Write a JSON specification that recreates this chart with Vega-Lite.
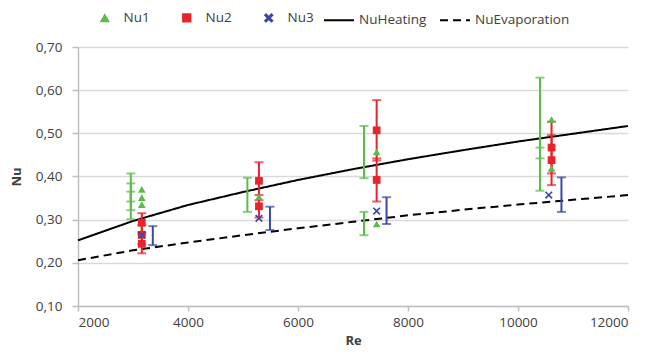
{
  "$schema": "https://vega.github.io/schema/vega-lite/v6.json",
  "width": 550,
  "height": 259,
  "autosize": {"type": "none"},
  "padding": {"left": 78, "top": 47, "right": 23, "bottom": 50},
  "background": "white",
  "config": {
    "view": {"stroke": null},
    "font": "Open Sans",
    "axis": {
      "gridColor": "#d9d9d9",
      "gridWidth": 1.5,
      "domainColor": "#bfbfbf",
      "domainWidth": 1.5,
      "tickColor": "#bfbfbf",
      "tickWidth": 1.5,
      "labelColor": "#404040",
      "labelFontSize": 13.5,
      "labelFont": "Open Sans",
      "titleColor": "#404040",
      "titleFontSize": 13,
      "titleFontWeight": "bold",
      "titleFont": "Open Sans"
    },
    "legend": {"padding": 0, "labelFont": "Open Sans", "labelFontSize": 13.5, "labelColor": "#404040", "symbolOpacity": 1}
  },
  "datasets": {
    "pts": [
      {"series": "Nu1", "Re": 3160, "Nu": 0.370},
      {"series": "Nu1", "Re": 3160, "Nu": 0.351},
      {"series": "Nu1", "Re": 3160, "Nu": 0.335},
      {"series": "Nu1", "Re": 5290, "Nu": 0.353},
      {"series": "Nu1", "Re": 7430, "Nu": 0.457},
      {"series": "Nu1", "Re": 7430, "Nu": 0.290},
      {"series": "Nu1", "Re": 10610, "Nu": 0.532},
      {"series": "Nu1", "Re": 10610, "Nu": 0.419},
      {"series": "Nu2", "Re": 3160, "Nu": 0.293},
      {"series": "Nu2", "Re": 3160, "Nu": 0.265},
      {"series": "Nu2", "Re": 3160, "Nu": 0.244},
      {"series": "Nu2", "Re": 5290, "Nu": 0.390},
      {"series": "Nu2", "Re": 5290, "Nu": 0.331},
      {"series": "Nu2", "Re": 7430, "Nu": 0.507},
      {"series": "Nu2", "Re": 7430, "Nu": 0.392},
      {"series": "Nu2", "Re": 10610, "Nu": 0.467},
      {"series": "Nu2", "Re": 10610, "Nu": 0.438},
      {"series": "Nu3", "Re": 3160, "Nu": 0.264},
      {"series": "Nu3", "Re": 5290, "Nu": 0.303},
      {"series": "Nu3", "Re": 7430, "Nu": 0.320},
      {"series": "Nu3", "Re": 10560, "Nu": 0.357}
    ],
    "errs": [
      {"series": "Nu1", "Re": 2960, "lo": 0.342, "hi": 0.407},
      {"series": "Nu1", "Re": 2960, "lo": 0.322, "hi": 0.384},
      {"series": "Nu1", "Re": 2960, "lo": 0.301, "hi": 0.365},
      {"series": "Nu1", "Re": 5080, "lo": 0.318, "hi": 0.397},
      {"series": "Nu1", "Re": 7200, "lo": 0.396, "hi": 0.517},
      {"series": "Nu1", "Re": 7200, "lo": 0.264, "hi": 0.318},
      {"series": "Nu1", "Re": 10400, "lo": 0.442, "hi": 0.629},
      {"series": "Nu1", "Re": 10400, "lo": 0.367, "hi": 0.467},
      {"series": "Nu2", "Re": 3160, "lo": 0.271, "hi": 0.315},
      {"series": "Nu2", "Re": 3160, "lo": 0.243, "hi": 0.287},
      {"series": "Nu2", "Re": 3160, "lo": 0.222, "hi": 0.266},
      {"series": "Nu2", "Re": 5290, "lo": 0.345, "hi": 0.433},
      {"series": "Nu2", "Re": 5290, "lo": 0.305, "hi": 0.357},
      {"series": "Nu2", "Re": 7430, "lo": 0.437, "hi": 0.577},
      {"series": "Nu2", "Re": 7430, "lo": 0.342, "hi": 0.442},
      {"series": "Nu2", "Re": 10610, "lo": 0.407, "hi": 0.527},
      {"series": "Nu2", "Re": 10610, "lo": 0.380, "hi": 0.496},
      {"series": "Nu3", "Re": 3360, "lo": 0.241, "hi": 0.285},
      {"series": "Nu3", "Re": 5490, "lo": 0.276, "hi": 0.330},
      {"series": "Nu3", "Re": 7610, "lo": 0.290, "hi": 0.352},
      {"series": "Nu3", "Re": 10790, "lo": 0.318, "hi": 0.398}
    ],
    "lines": [
      {"series": "NuHeating", "Re": 2000, "Nu": 0.252},
      {"series": "NuHeating", "Re": 3000, "Nu": 0.297},
      {"series": "NuHeating", "Re": 4000, "Nu": 0.334},
      {"series": "NuHeating", "Re": 5000, "Nu": 0.364},
      {"series": "NuHeating", "Re": 6000, "Nu": 0.392},
      {"series": "NuHeating", "Re": 7000, "Nu": 0.417},
      {"series": "NuHeating", "Re": 8000, "Nu": 0.440},
      {"series": "NuHeating", "Re": 9000, "Nu": 0.461},
      {"series": "NuHeating", "Re": 10000, "Nu": 0.481},
      {"series": "NuHeating", "Re": 11000, "Nu": 0.499},
      {"series": "NuHeating", "Re": 12000, "Nu": 0.517},
      {"series": "NuEvaporation", "Re": 2000, "Nu": 0.206},
      {"series": "NuEvaporation", "Re": 3000, "Nu": 0.229},
      {"series": "NuEvaporation", "Re": 4000, "Nu": 0.247},
      {"series": "NuEvaporation", "Re": 5000, "Nu": 0.264},
      {"series": "NuEvaporation", "Re": 6000, "Nu": 0.280},
      {"series": "NuEvaporation", "Re": 7000, "Nu": 0.295},
      {"series": "NuEvaporation", "Re": 8000, "Nu": 0.310},
      {"series": "NuEvaporation", "Re": 9000, "Nu": 0.323},
      {"series": "NuEvaporation", "Re": 10000, "Nu": 0.335},
      {"series": "NuEvaporation", "Re": 11000, "Nu": 0.346},
      {"series": "NuEvaporation", "Re": 12000, "Nu": 0.357}
    ]
  },
  "layer": [
    {
      "data": {"name": "lines"},
      "mark": {"type": "line", "strokeWidth": 2, "color": "black"},
      "encoding": {
        "x": {"field": "Re", "type": "quantitative", "scale": {"domain": [2000, 12000], "nice": false},
              "axis": {"title": "Re", "values": [2000, 4000, 6000, 8000, 10000, 12000], "format": "d", "grid": false, "tickSize": 5, "labelPadding": 4, "titlePadding": 6}},
        "y": {"field": "Nu", "type": "quantitative", "scale": {"domain": [0.1, 0.7], "nice": false, "zero": false},
              "axis": {"title": "Nu", "values": [0.1, 0.2, 0.3, 0.4, 0.5, 0.6, 0.7], "labelExpr": "replace(format(datum.value, '.2f'), '.', ',')", "tickSize": 6, "labelPadding": 10, "titlePadding": 12}},
        "strokeDash": {"field": "series", "type": "nominal",
          "scale": {"domain": ["NuHeating", "NuEvaporation"], "range": [[1, 0], [8, 5]]},
          "legend": {"title": null, "orient": "none", "legendX": 245, "legendY": -43, "direction": "horizontal",
                     "symbolType": "stroke", "symbolSize": 900, "symbolStrokeColor": "black", "symbolStrokeWidth": 2,
                     "labelOffset": 4, "columnPadding": 9}}
      }
    },
    {
      "data": {"name": "errs"},
      "mark": {"type": "errorbar", "thickness": 2, "ticks": {"size": 9, "thickness": 2}},
      "encoding": {
        "x": {"field": "Re", "type": "quantitative"},
        "y": {"field": "lo", "type": "quantitative", "title": "Nu"},
        "y2": {"field": "hi"},
        "color": {"field": "series", "type": "nominal",
          "legend": {"title": null, "orient": "none", "legendX": 20, "legendY": -36, "direction": "horizontal",
                     "symbolSize": 60, "labelOffset": 12, "columnPadding": 29}}
      }
    },
    {
      "data": {"name": "pts"},
      "mark": {"type": "point", "filled": true, "opacity": 1, "size": 60},
      "encoding": {
        "x": {"field": "Re", "type": "quantitative"},
        "y": {"field": "Nu", "type": "quantitative"},
        "color": {"field": "series", "type": "nominal",
          "scale": {"domain": ["Nu1", "Nu2", "Nu3"], "range": ["#5dbb4c", "#e5242b", "#3b47a8"]},
          "legend": {"title": null, "orient": "none", "legendX": 20, "legendY": -36, "direction": "horizontal",
                     "symbolSize": 60, "labelOffset": 12, "columnPadding": 29}},
        "shape": {"field": "series", "type": "nominal",
          "scale": {"domain": ["Nu1", "Nu2", "Nu3"], "range": ["triangle-up", "square", "M-1,-0.7L-0.7,-1L0,-0.3L0.7,-1L1,-0.7L0.3,0L1,0.7L0.7,1L0,0.3L-0.7,1L-1,0.7L-0.3,0Z"]},
          "legend": {"title": null, "orient": "none", "legendX": 20, "legendY": -36, "direction": "horizontal",
                     "symbolSize": 60, "labelOffset": 12, "columnPadding": 29}}
      }
    }
  ]
}
